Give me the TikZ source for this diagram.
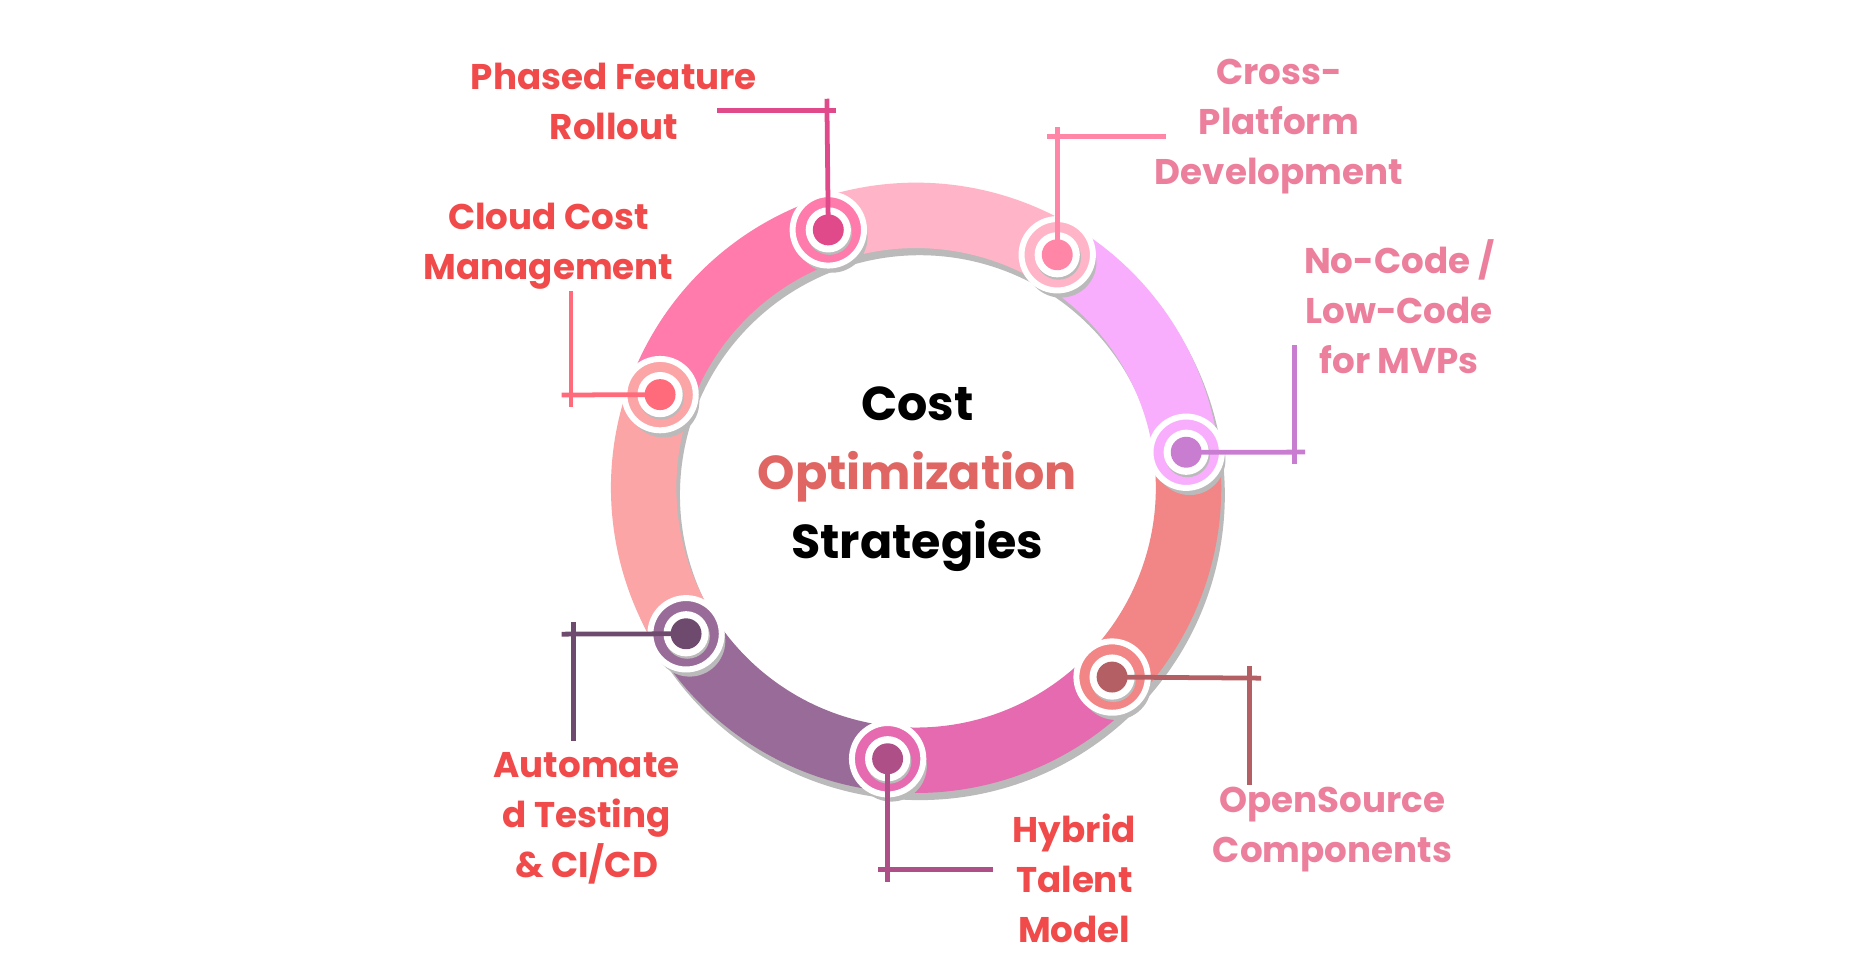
\documentclass[tikz,border=0pt]{standalone}
\usepackage{fontspec}
\setmainfont{Poppins}[UprightFont=* Bold]
\begin{document}
\begin{tikzpicture}[x=0.5pt,y=-0.5pt]
\tikzset{lbl/.style={align=center,font=\fontsize{15}{21}\selectfont},
 redt/.style={lbl,text=lred}, pinkt/.style={lbl,text=lpink},
 lead/.style={line width=2pt}}
\definecolor{lred}{HTML}{F04A4A}\definecolor{lpink}{HTML}{EC7F9C}
\useasboundingbox[fill=white] (0,0) rectangle (1560,819.5);
\begin{scope}[shift={(770,410)},x=1pt,y=1pt]
\foreach \s/\e/\c in {160/108.8/FF7BAC,108.8/58.8/FFB5C7,58.8/7.5/F8AEFD,7.5/-44/F28585,-44/-96/E66AAF,-96/-147.6/996B99,-147.6/-200/FCA5A6}{
 \draw[line width=27.5pt,color=black!27] ([shift={(1.5pt,-3pt)}]\s:114.5pt) arc[start angle=\s,end angle=\e,radius=114.5pt];
 \definecolor{segc}{HTML}{\c}
 \draw[line width=27.5pt,color=segc] (\s:114.5pt) arc[start angle=\s,end angle=\e,radius=114.5pt];
}
\foreach \a/\c/\d/\n in {108.8/FF7BAC/E0498A/pa,58.8/FFB5C7/FF86A6/pb,7.5/F8AEFD/C87DD0/pc,-44/F28585/B35F63/pd,-96/E66AAF/AE4F88/pe,-147.6/996B99/6E4A6E/pf,-200/FCA5A6/FF6B7A/pg}{
 \definecolor{segc}{HTML}{\c}\definecolor{dotc}{HTML}{\d}
 \fill[black!27] ([shift={(1.5pt,-3pt)}]\a:114.5pt) circle (15pt);
 \filldraw[fill=segc,draw=white,line width=2.5pt] (\a:114.5pt) circle (15pt);
 \fill[black!27] ([shift={(0.5pt,-1pt)}]\a:114.5pt) circle (9.5pt);
 \fill[white] (\a:114.5pt) circle (9.5pt);
 \fill[dotc] (\a:114.5pt) circle (6.5pt);
 \coordinate (\n) at (\a:114.5pt);
}
\end{scope}
\definecolor{c1}{HTML}{E0498A}\definecolor{c2}{HTML}{FF86A6}\definecolor{c3}{HTML}{C87DD0}
\definecolor{c4}{HTML}{B35F63}\definecolor{c5}{HTML}{AE4F88}\definecolor{c6}{HTML}{6E4A6E}\definecolor{c7}{HTML}{FF6B7A}
\coordinate (qa) at (695,93);\draw[lead,c1] (pa) -- (695,83); \draw[lead,c1] (603,93) -- (703,93);
\draw[lead,c2] (pb) -- (pb|-0,107); \draw[lead,c2] (880,115) -- (980,115);
\draw[lead,c3] (pc) -- (1097,380); \draw[lead,c3] (1088,290) -- (1088,390);
\draw[lead,c4] (pd) -- (1060,570); \draw[lead,c4] (1050,560) -- (1050,660);
\draw[lead,c5] (pe) -- (pe|-0,741); \draw[lead,c5] (738,731) -- (835,731);
\draw[lead,c6] (pf) -- (472,533); \draw[lead,c6] (482,523) -- (482,623);
\draw[lead,c7] (pg) -- (472,332); \draw[lead,c7] (480,245) -- (480,342);
\node[redt] (t1) at (516,85) {Phased Feature\\Rollout};
\node[pinkt] (t2) at (1075,106) {Cross-\\Platform\\Development};
\node[pinkt] (t3) at (1176,258) {No-Code /\\Low-Code\\for MVPs};
\node[pinkt] (t4) at (1120,697) {OpenSource\\Components};
\node[redt] (t5) at (903,738) {Hybrid\\Talent\\Model};
\node[redt] (t6) at (493,688) {Automate\\d Testing\\\& CI/CD};
\node[redt] (t7) at (461,207) {Cloud Cost\\Management};
\node[align=center,font=\fontsize{20}{29}\selectfont] (ct) at (771,403) {Cost\\\textcolor[HTML]{DF6663}{Optimization}\\Strategies};
\end{tikzpicture}
\end{document}
